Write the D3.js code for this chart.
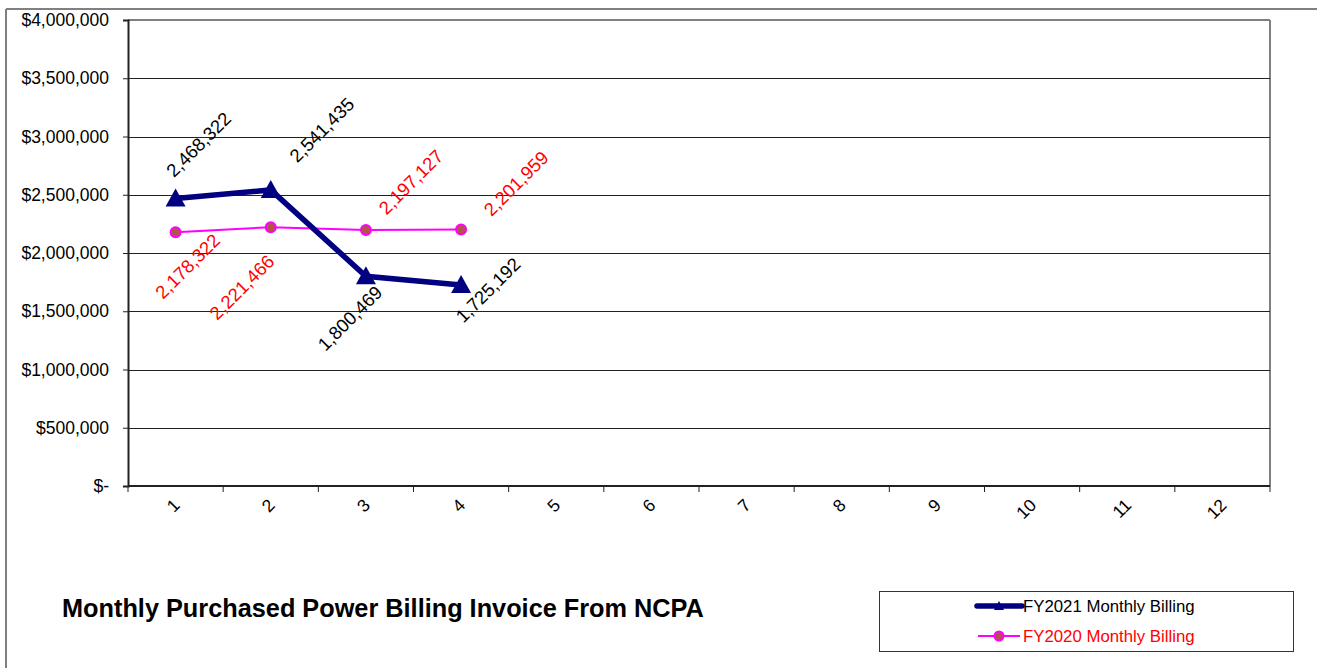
<!DOCTYPE html>
<html>
<head>
<meta charset="utf-8">
<script src="https://cdn.jsdelivr.net/npm/d3@7"></script>
<style>
  body { margin: 0; background: #fff; }
  svg { display: block; font-family: "Liberation Sans", Arial, sans-serif; }
</style>
</head>
<body>
<svg id="chart" width="1317" height="668"></svg>
<script>
// data
const months = ["1", "2", "3", "4", "5", "6", "7", "8", "9", "10", "11", "12"]
const fy2021 = [2468322, 2541435, 1800469, 1725192]
const fy2020 = [2178322, 2221466, 2197127, 2201959]
const yTicks = [0, 500000, 1000000, 1500000, 2000000, 2500000, 3000000, 3500000, 4000000]
const seriesNames = ["FY2021 Monthly Billing", "FY2020 Monthly Billing"]
const title = "Monthly Purchased Power Billing Invoice From NCPA"

// where the hand-placed data labels sit, relative to their point
const nudge2021 = [[23, -54], [51, -60], [-16, 42], [27, 5]]
const nudge2020 = [[12, 34], [-29, 60], [45, -48], [55, -46]]

var navy = "#000080"
var pink = "#ff00ff"
var dotFill = "#b5524e"

var svg = d3.select("#chart")

// plot area edges (not "top": that name belongs to window)
var pLeft = 128, pRight = 1270, pTop = 20, pBottom = 486

var x = d3.scaleBand().domain(months).range([pLeft, pRight])
var y = d3.scaleLinear().domain([0, 4000000]).range([pBottom, pTop])

// outer frame (left + top edges only)
svg.append("line").attr("x1", 6).attr("y1", 9).attr("x2", 1317).attr("y2", 9)
  .attr("stroke", "#808080").attr("stroke-width", 2)
svg.append("line").attr("x1", 6).attr("y1", 9).attr("x2", 6).attr("y2", 668)
  .attr("stroke", "#808080").attr("stroke-width", 2)

// plot area border top/right
svg.append("line").attr("x1", pLeft).attr("y1", pTop).attr("x2", pRight).attr("y2", pTop)
  .attr("stroke", "#808080").attr("stroke-width", 2)
svg.append("line").attr("x1", pRight).attr("y1", pTop).attr("x2", pRight).attr("y2", pBottom)
  .attr("stroke", "#808080").attr("stroke-width", 2)

// gridlines
svg.append("g").selectAll("line").data(yTicks.slice(1, -1)).join("line")
  .attr("x1", pLeft).attr("x2", pRight)
  .attr("y1", d => Math.round(y(d)) + 0.5).attr("y2", d => Math.round(y(d)) + 0.5)
  .attr("stroke", "#222").attr("stroke-width", 1)

// y axis
var yAxis = d3.axisLeft(y).tickValues(yTicks).tickSize(5).tickPadding(14)
  .tickFormat(d => d === 0 ? "$-" : "$" + d3.format(",")(d))
var gy = svg.append("g").attr("transform", "translate(" + pLeft + ",0)").call(yAxis)
gy.select(".domain").attr("stroke", "#222").attr("stroke-width", 2)
gy.selectAll(".tick line").attr("stroke", "#222")
gy.selectAll(".tick text").attr("font-size", 17.5).attr("fill", "#000")
  .attr("font-family", "Liberation Sans, Arial, sans-serif")

// x axis: ticks on the band edges
var edges = months.map(m => x(m)).concat([pRight])
svg.append("line").attr("x1", pLeft).attr("x2", pRight).attr("y1", pBottom).attr("y2", pBottom)
  .attr("stroke", "#222").attr("stroke-width", 2)
svg.append("g").selectAll("line").data(edges).join("line")
  .attr("x1", d => d).attr("x2", d => d).attr("y1", pBottom).attr("y2", pBottom + 6)
  .attr("stroke", "#222")
svg.append("g").selectAll("text").data(months).join("text")
  .attr("transform", d => "translate(" + (x(d) + x.bandwidth() / 2 + 1) + "," + (pBottom + 16) + ") rotate(-45)")
  .attr("text-anchor", "end").attr("dominant-baseline", "central")
  .attr("font-size", 17.5).text(d => d)

function px(i) { return x(months[i]) + x.bandwidth() / 2 }

var line = d3.line().x((d, i) => px(i)).y(d => y(d))

// FY2020 series
svg.append("path").datum(fy2020).attr("d", line)
  .attr("fill", "none").attr("stroke", pink).attr("stroke-width", 2)
svg.append("g").selectAll("circle").data(fy2020).join("circle")
  .attr("cx", (d, i) => px(i)).attr("cy", d => y(d)).attr("r", 5)
  .attr("fill", dotFill).attr("stroke", pink).attr("stroke-width", 2)

// FY2021 series
svg.append("path").datum(fy2021).attr("d", line)
  .attr("fill", "none").attr("stroke", navy).attr("stroke-width", 5.5)
  .attr("stroke-linejoin", "miter")
var tri = "M0,-10 L10,8 L-10,8 Z"
svg.append("g").selectAll("path").data(fy2021).join("path")
  .attr("transform", (d, i) => "translate(" + px(i) + "," + y(d) + ")")
  .attr("d", tri).attr("fill", navy)

// data labels
var fmt = d3.format(",")
function labels(vals, nudge, colour) {
  svg.append("g").selectAll("text").data(vals).join("text")
    .attr("transform", (d, i) => "translate(" + (px(i) + nudge[i][0]) + "," + (y(d) + nudge[i][1]) + ") rotate(-45)")
    .attr("text-anchor", "middle").attr("dominant-baseline", "central")
    .attr("font-size", 18.5).attr("fill", colour).text(d => fmt(d))
}
labels(fy2021, nudge2021, "#000")
labels(fy2020, nudge2020, "#ff0000")

// title
svg.append("text").attr("x", 62).attr("y", 617).attr("font-size", 25.3).attr("font-weight", "bold")
  .text(title)

// legend
var lg = svg.append("g")
lg.append("rect").attr("x", 879.5).attr("y", 591.5).attr("width", 414).attr("height", 60)
  .attr("fill", "#fff").attr("stroke", "#333")
lg.append("line").attr("x1", 977).attr("x2", 1022).attr("y1", 606).attr("y2", 606)
  .attr("stroke", navy).attr("stroke-width", 5.5).attr("stroke-linecap", "round")
lg.append("path").attr("transform", "translate(999,606) scale(0.5)").attr("d", tri).attr("fill", navy)
lg.append("text").attr("x", 1023).attr("y", 606).attr("dominant-baseline", "central")
  .attr("font-size", 16.8).attr("fill", "#000").text(seriesNames[0])
lg.append("line").attr("x1", 978).attr("x2", 1020).attr("y1", 636).attr("y2", 636)
  .attr("stroke", pink).attr("stroke-width", 2)
lg.append("circle").attr("cx", 999).attr("cy", 636).attr("r", 4.5)
  .attr("fill", dotFill).attr("stroke", pink).attr("stroke-width", 2)
lg.append("text").attr("x", 1023).attr("y", 636).attr("dominant-baseline", "central")
  .attr("font-size", 16.8).attr("fill", "#ff0000").text(seriesNames[1])
</script>
</body>
</html>
